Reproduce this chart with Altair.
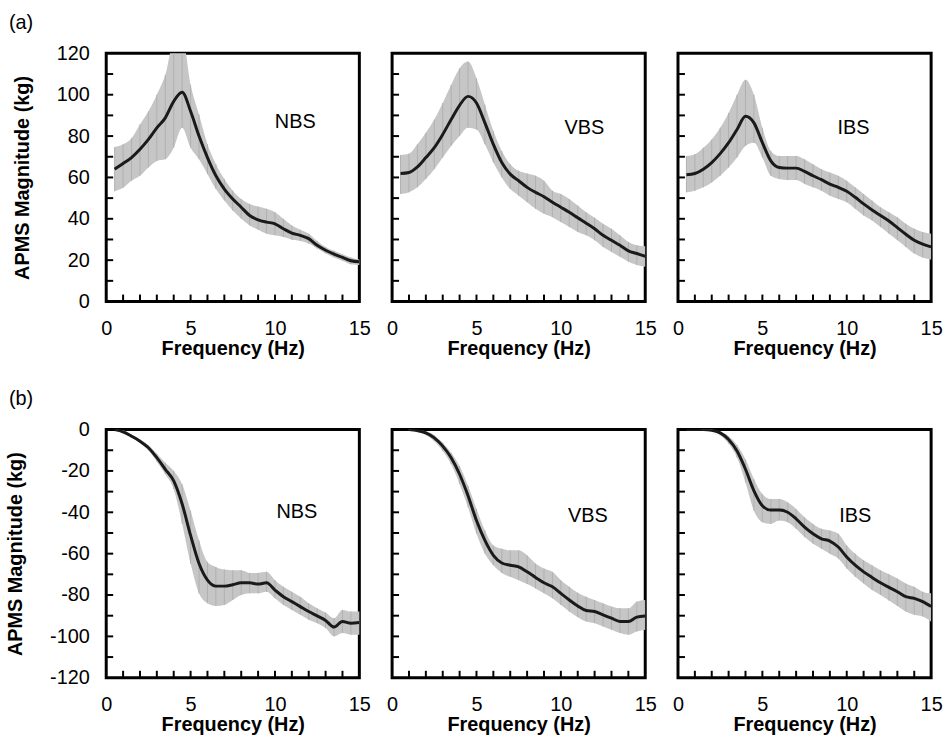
import altair as alt
import pandas as pd

FONT = "Liberation Sans"

# Frequency grid (Hz)
freq = [0.5, 1.0, 1.5, 2.0, 2.5, 3.0, 3.5, 4.0, 4.5, 5.0, 5.5, 6.0, 6.5, 7.0, 7.5,
        8.0, 8.5, 9.0, 9.5, 10.0, 10.5, 11.0, 11.5, 12.0, 12.5, 13.0, 13.5, 14.0, 14.5, 15.0]

# (a) row: APMS magnitude (kg) mean, lower and upper of the band
nbs_a_mean = [64, 66.7, 69.6, 73.6, 78.4, 84, 88.8, 96.8, 101.2, 92, 80, 69.6, 60.8, 54.4, 49.6,
              45.6, 41.6, 39.5, 38.4, 37.6, 35.2, 33.1, 32, 30.4, 27.2, 24.8, 22.9, 21.3, 19.7, 19.2]
nbs_a_hi = [74.7, 76, 79, 85.6, 92, 100, 109.6, 126, 128, 104.8, 90.4, 76, 66.4, 59.2, 53.6,
            49.6, 47.2, 45.9, 44.8, 43.2, 40, 36.8, 34.7, 32.8, 29.3, 26.4, 24.5, 22.9, 21.3, 20.3]
nbs_a_lo = [53.3, 55, 58.4, 60.8, 64.8, 68, 68.8, 74.4, 84, 74.4, 68.8, 61.6, 54.4, 48.8, 44,
            40, 36.8, 34.7, 32.8, 32, 31.2, 29.9, 29.3, 28, 25.6, 23.2, 21.3, 19.7, 18, 17.6]

vbs_a_mean = [61.9, 62.4, 65.1, 69.6, 74.4, 80.8, 88, 94.9, 99.2, 96, 86.4, 76, 67.2, 61.6, 58.4,
              55.2, 52.8, 50.7, 48, 45.6, 43.2, 40.5, 37.9, 35.2, 32, 29.6, 27.2, 24.5, 23.2, 21.9]
vbs_a_hi = [70.9, 71.5, 76, 81.6, 88, 96, 104.8, 112.8, 116, 108, 95.2, 82.4, 72.8, 66.4, 63.2,
            61.9, 60.8, 58.4, 53.6, 52, 49.6, 46.4, 43.2, 40.5, 37.6, 35.2, 32, 28.8, 27.2, 26.7]
vbs_a_lo = [52, 52.8, 55.2, 59.2, 64, 69.6, 75.2, 80, 84, 83.2, 76, 67.2, 60, 54.4, 51.2,
            48, 44.8, 42.4, 40.8, 38.4, 36, 33.6, 32, 29.6, 26.4, 24, 21.6, 19.2, 17.6, 16.8]

ibs_a_mean = [61.3, 61.9, 64, 67.2, 71.5, 76.8, 83.2, 89.6, 86.4, 76.8, 68, 64.8, 64.5, 64.5, 62.9,
              60.8, 58.9, 56.8, 55.2, 53.3, 50.4, 47.2, 44.3, 41.6, 38.9, 35.7, 32.5, 29.6, 27.7, 26.4]
ibs_a_hi = [70.4, 71.2, 74.4, 78.4, 84, 91.2, 100, 107.2, 100, 84, 72.8, 70.4, 70.4, 70.4, 68.8,
            66.4, 64, 62.4, 60.8, 58.4, 55.2, 52, 48.8, 45.6, 43.2, 40.8, 37.6, 35.2, 33.6, 32.8]
ibs_a_lo = [52.8, 53.6, 55.2, 57.6, 60.8, 64.8, 69.6, 75.2, 76.8, 69.6, 60.8, 59.2, 58.7, 58.7, 56.8,
            55.2, 53.6, 51.2, 49.6, 48, 44.8, 41.6, 39.2, 36, 32.8, 29.6, 26.4, 23.2, 21.3, 20.3]

# (b) row
nbs_b_mean = [0, -1.1, -3.2, -5.6, -8.8, -13.6, -19.2, -24.8, -36, -51.2, -64.8, -72.8, -75.7, -75.7, -75,
              -74.1, -74.1, -74.7, -74.1, -77.6, -80.8, -83.2, -85.6, -88, -90.1, -92.3, -95.5, -92.8, -93.6, -93.3]
nbs_b_hi = [0, -0.3, -2.4, -4.8, -7.5, -11.7, -16, -20, -26.4, -39.2, -53.6, -64, -66.4, -67.7, -68,
            -68, -69.3, -69.3, -68.8, -72.8, -76, -78.4, -80.8, -84, -86.4, -88.5, -91.2, -87.2, -88, -88]
nbs_b_lo = [0, -1.9, -4, -6.4, -10.1, -15.5, -21.6, -28.8, -45.6, -64.8, -79.2, -84, -85.3, -84.8, -82.4,
            -80, -79.2, -79.2, -78.4, -81.6, -84.8, -87.2, -89.6, -92, -93.6, -96, -100, -98.4, -99.2, -99.2]

vbs_b_mean = [None, 0, -0.5, -1.6, -4, -8, -13.6, -21.6, -32, -44, -53.6, -60.8, -64.5, -65.6, -66.4,
              -68.8, -71.5, -74.1, -76, -79.2, -82.4, -85.3, -87.5, -88, -89.6, -91.2, -92.8, -92.8, -90.7, -90.1]
vbs_b_hi = [None, 0, -0.2, -0.8, -2.7, -6.4, -11.2, -17.6, -27.2, -38.4, -48.8, -56, -57.6, -58.4, -58.4,
            -60.8, -64.8, -67.2, -68.8, -72.8, -76, -78.9, -80.8, -82.4, -84, -85.6, -86.4, -86.4, -83.2, -82.4]
vbs_b_lo = [None, -0.3, -1.1, -2.7, -5.6, -10.4, -16.8, -26.4, -37.6, -50.4, -60, -65.6, -69.3, -71.2, -72.8,
            -74.7, -76.8, -79.2, -81.6, -84.8, -88, -90.7, -92.8, -93.6, -95.2, -96.8, -98.4, -99.2, -97.6, -96.8]

ibs_b_mean = [0, 0, 0, -0.3, -1.6, -4.8, -10.4, -19.2, -29.6, -36.8, -38.9, -38.9, -40, -43.2, -47.2,
              -50.4, -52.8, -53.9, -56.8, -61.6, -65.6, -68.8, -71.5, -74.1, -76.3, -78.4, -80.8, -81.6, -83.2, -85.6]
ibs_b_hi = [0, 0, 0, 0, -0.8, -3.2, -7.5, -14.4, -24, -31.2, -33.6, -33.6, -35.2, -38.4, -42.4,
            -45.6, -48, -48.8, -50.4, -56, -60, -63.2, -65.6, -68, -69.9, -72, -74.4, -76, -78.4, -79.2]
ibs_b_lo = [0, 0, -0.2, -0.8, -2.7, -6.9, -13.6, -25.6, -39.2, -44.8, -45.6, -44, -44.8, -48, -52,
            -55.2, -57.6, -60, -62.4, -67.2, -71.2, -74.4, -77.6, -80, -82.7, -85.3, -88, -89.6, -90.4, -92.8]

# Panel labels and their positions (Hz, kg)
labels = ["NBS", "VBS", "IBS"]
label_x_a = [11.2, 11.4, 10.4]
label_y_a = [87, 84, 84]
label_x_b = [11.3, 11.6, 10.5]
label_y_b = [-40, -42, -42]

# Axis ticks
x_label_values = [0, 5, 10, 15]
x_minor = list(range(1, 15))
y_label_a = [0, 20, 40, 60, 80, 100, 120]
y_minor_a = list(range(10, 120, 10))
y_label_b = [-120, -100, -80, -60, -40, -20, 0]
y_minor_b = list(range(-110, 0, 10))

W, H = 255, 250
BAND = "#c6c6c6"
BAND_LINE = "#b0b0b0"
LINE = "#1a1a1a"


def panel(mean, lo, hi, lab, lx, ly, domain, ylabels, yminor, show_y, letter):
    df = pd.DataFrame({"f": freq, "m": mean, "lo": lo, "hi": hi})
    xs = alt.Scale(domain=[0, 15], nice=False, zero=False)
    ys = alt.Scale(domain=domain, nice=False, zero=False)
    xaxis = alt.Axis(values=x_label_values, title="Frequency (Hz)", labelPadding=17,
                     titlePadding=0, format="d")
    if show_y:
        yaxis = alt.Axis(values=ylabels, title="APMS Magnitude (kg)", labelPadding=17,
                         titlePadding=24, labelExpr="toString(datum.value)")
    else:
        yaxis = None
    X = lambda fld: alt.X(fld, scale=xs, axis=xaxis)
    Y = lambda fld: alt.Y(fld, scale=ys, axis=yaxis)

    base = alt.Chart(df)
    area = base.mark_area(color=BAND, clip=True, interpolate="monotone").encode(
        x=X("f:Q"), y=Y("lo:Q"), y2="hi:Q")
    bars = base.mark_rule(color=BAND_LINE, strokeWidth=1, clip=True).encode(
        x=X("f:Q"), y=Y("lo:Q"), y2="hi:Q")
    line = base.mark_line(color=LINE, strokeWidth=3, interpolate="monotone", clip=True).encode(
        x=X("f:Q"), y=Y("m:Q"))
    txt = alt.Chart(pd.DataFrame({"t": [lab], "x": [lx], "y": [ly]})).mark_text(
        font=FONT, fontSize=20, color="black").encode(
        x=X("x:Q"), y=Y("y:Q"), text="t:N")
    ytick = alt.Chart(pd.DataFrame({"v": yminor})).mark_rule(color="black", strokeWidth=2).encode(
        y=Y("v:Q"), x=alt.value(0), x2=alt.value(7))
    xtick = alt.Chart(pd.DataFrame({"v": x_minor})).mark_rule(color="black", strokeWidth=2).encode(
        x=X("v:Q"), y=alt.value(H), y2=alt.value(H - 7))
    layers = [area, bars, line, txt, ytick, xtick]
    if letter:
        let = alt.Chart(pd.DataFrame({"t": [letter]})).mark_text(
            font=FONT, fontSize=20, color="black", align="left", baseline="middle").encode(
            text="t:N", x=alt.value(-98), y=alt.value(-31))
        layers.append(let)
    return alt.layer(*layers).properties(width=W, height=H)


row_a_data = [(nbs_a_mean, nbs_a_lo, nbs_a_hi), (vbs_a_mean, vbs_a_lo, vbs_a_hi),
              (ibs_a_mean, ibs_a_lo, ibs_a_hi)]
row_b_data = [(nbs_b_mean, nbs_b_lo, nbs_b_hi), (vbs_b_mean, vbs_b_lo, vbs_b_hi),
              (ibs_b_mean, ibs_b_lo, ibs_b_hi)]

panels = []
for i, (m, lo, hi) in enumerate(row_a_data):
    panels.append(panel(m, lo, hi, labels[i], label_x_a[i], label_y_a[i], [0, 120], y_label_a,
                        y_minor_a, i == 0, "(a)" if i == 0 else None))
for i, (m, lo, hi) in enumerate(row_b_data):
    panels.append(panel(m, lo, hi, labels[i], label_x_b[i], label_y_b[i], [-120, 0], y_label_b,
                        y_minor_b, i == 0, "(b)" if i == 0 else None))

chart = alt.concat(
    *panels, columns=3, spacing=alt.RowColnumber(row=129, column=33), bounds="flush"
).properties(
    padding={"left": 4, "top": 8, "right": 4, "bottom": 5},
    background="white"
).configure_view(
    stroke="black", strokeWidth=3
).configure_axis(
    labelFont=FONT, labelFontSize=20, labelColor="black",
    titleFont=FONT, titleFontSize=20, titleFontWeight="bold", titleColor="black",
    domain=False, ticks=False, grid=False, labelFlush=False, labelOverlap=False
)

chart.save("out.html", embed_options={"renderer": "svg", "actions": False})
